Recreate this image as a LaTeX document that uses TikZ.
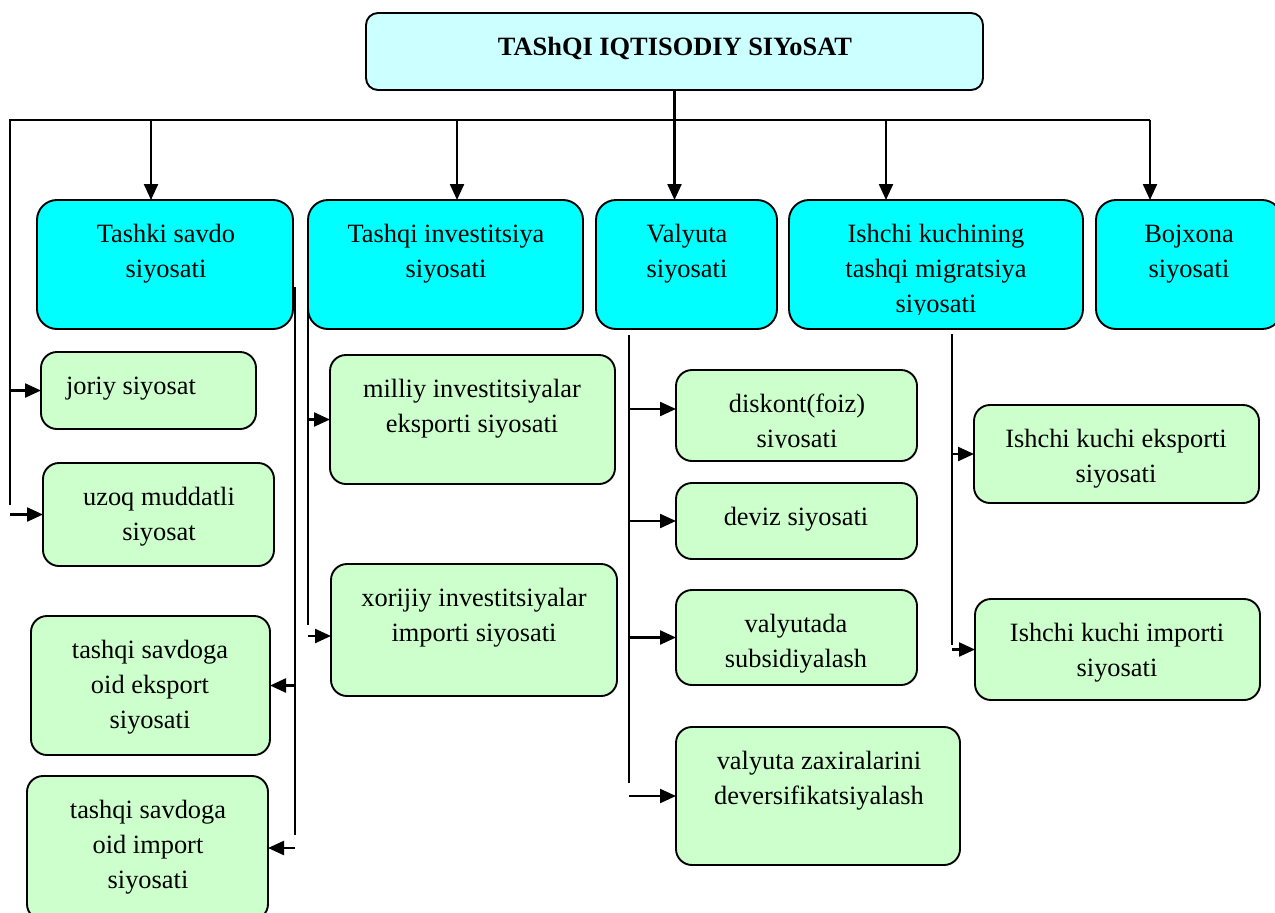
\documentclass[tikz,border=0pt]{standalone}
\usepackage{fontspec}
\setmainfont{Liberation Serif}
\usetikzlibrary{arrows.meta}

\definecolor{titlecyan}{HTML}{CCFFFF}
\definecolor{branchcyan}{HTML}{00FFFF}
\definecolor{leafgreen}{HTML}{CCFFCC}

% box: style, name, x1, y1, x2, y2, text x, text
\newcommand\treebox[8]{%
  \node[#1, minimum width={#5-#3}, minimum height={#6-#4}] (#2) at ({(#3+#5)/2},{(#4+#6)/2}) {};
  \node[lbl] (#2-t) at (#7,{#4+17.5}) {\strut #8};}

\begin{document}
\begin{tikzpicture}[x=1pt,y=-1pt,
  every node/.style={inner sep=0pt, outer sep=0pt},
  boxbase/.style={draw=black, line width=1.9pt},
  headbox/.style={boxbase, fill=titlecyan, rounded corners=12pt},
  bluebox/.style={boxbase, fill=branchcyan, rounded corners=20pt},
  greenbox/.style={boxbase, fill=leafgreen, rounded corners=16pt},
  lbl/.style={anchor=north, align=center, font=\fontsize{26.4}{35}\selectfont},
  link/.style={line width=2.3pt},
  arr/.style={link, -{Triangle[length=16pt,width=14pt]}},
]
\useasboundingbox (0,0) rectangle (1275,913);

% title
\node[headbox, minimum width=617, minimum height=77] (top) at (674.5,51.5) {};
\node[lbl, font=\fontsize{26.4}{35}\selectfont\bfseries] (top-t) at (675,30.5) {\strut TAShQI IQTISODIY SIYoSAT};

% main branches
\treebox{bluebox}{ts}{37}{200}{293}{329}{166}{Tashki savdo\\siyosati}
\treebox{bluebox}{ti}{308}{200}{583}{329}{446}{Tashqi investitsiya\\siyosati}
\treebox{bluebox}{va}{596}{200}{777}{329}{687}{Valyuta\\siyosati}
\node[bluebox, minimum width=294, minimum height=129] (ik) at (936,264.5) {};
\begin{scope}
  \clip (789,200) rectangle (1083,314);
  \node[lbl] (ik-t) at (936,217.5) {\strut Ishchi kuchining\\tashqi migratsiya\\siyosati};
\end{scope}
\treebox{bluebox}{bj}{1096}{200}{1282}{329}{1189}{Bojxona\\siyosati}

% sub-policies
\treebox{greenbox}{jo}{41}{352}{256}{429}{131}{joriy siyosat}
\treebox{greenbox}{uz}{43}{463}{274}{566}{159}{uzoq muddatli\\siyosat}
\treebox{greenbox}{ek}{31}{616}{270}{755}{150}{tashqi savdoga\\oid eksport\\siyosati}
\treebox{greenbox}{im}{27}{776}{268}{920}{148}{tashqi savdoga\\oid import\\siyosati}
\treebox{greenbox}{mi}{330}{355}{615}{484}{472}{milliy investitsiyalar\\eksporti siyosati}
\treebox{greenbox}{xo}{331}{564}{617}{696}{474}{xorijiy investitsiyalar\\importi siyosati}
\node[greenbox, minimum width=241, minimum height=91] (di) at (796.5,415.5) {};
\begin{scope}
  \clip (676,370) rectangle (917,447);
  \node[lbl] (di-t) at (797,387.5) {\strut diskont(foiz)\\siyosati};
\end{scope}
\treebox{greenbox}{de}{676}{483}{917}{559}{796}{deviz siyosati}
\treebox{greenbox}{su}{676}{590}{917}{685}{796}{valyutada\\subsidiyalash}
\treebox{greenbox}{za}{676}{727}{960}{865}{819}{valyuta zaxiralarini\\deversifikatsiyalash}
\treebox{greenbox}{ie}{974}{405}{1259}{503}{1116}{Ishchi kuchi eksporti\\siyosati}
\treebox{greenbox}{ii}{975}{599}{1260}{700}{1117}{Ishchi kuchi importi\\siyosati}

% distribution bus
\coordinate (busL) at (10,120);
\coordinate (busR) at (1150,120);
\coordinate (busLend) at (10,505);
\coordinate (d-ts) at (151,120);
\coordinate (d-ti) at (457,120);
\coordinate (d-ik) at (886,120);
\draw[link] (busLend) -- (busL) -- (busR);
\draw[arr] (top.south) -- (top.south |- va.north);
\draw[arr] (d-ts) -- (d-ts |- ts.north);
\draw[arr] (d-ti) -- (d-ti |- ti.north);
\draw[arr] (d-ik) -- (d-ik |- ik.north);
\draw[arr] (busR) -- (busR |- bj.north);

% left feeders
\draw[arr] (busL |- jo.west) -- (jo.west);
\draw[arr] (busL |- uz.west) -- (uz.west);

% foreign trade spine
\coordinate (s1) at (295,287);
\coordinate (s2) at (295,835);
\draw[link] (s1) -- (s2);
\draw[arr] (s1 |- ek.east) -- (ek.east);
\draw[arr] (s1 |- im.east) -- (im.east);

% investment spine
\coordinate (t1) at (308,290);
\coordinate (t2) at (308,625);
\coordinate (t3) at (308,636);
\draw[link] (t1) -- (t2);
\draw[arr] (t1 |- mi.west) -- (mi.west);
\draw[arr] (t3) -- (t3 -| xo.west);

% currency spine
\coordinate (v1) at (629,335);
\coordinate (v2) at (629,783);
\coordinate (v3) at (629,409);
\draw[link] (v1) -- (v2);
\draw[arr] (v3) -- (v3 -| di.west);
\draw[arr] (v1 |- de.west) -- (de.west);
\draw[arr] (v1 |- su.west) -- (su.west);
\draw[arr] (v1 |- za.west) -- (za.west);

% labour migration spine
\coordinate (w1) at (952,334);
\coordinate (w2) at (952,645);
\draw[link] (w1) -- (w2);
\draw[arr] (w1 |- ie.west) -- (ie.west);
\draw[arr] (w1 |- ii.west) -- (ii.west);
\end{tikzpicture}
\end{document}
